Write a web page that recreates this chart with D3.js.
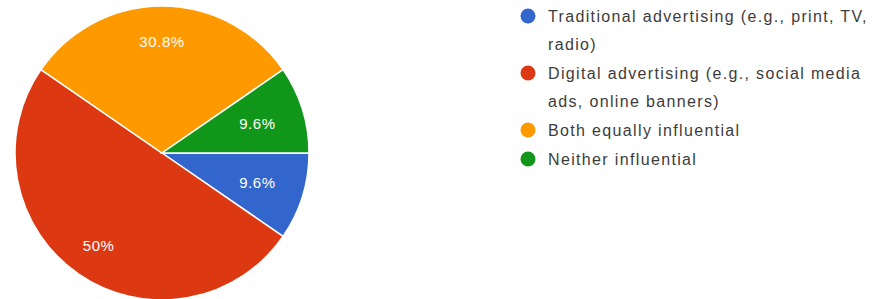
<!DOCTYPE html>
<html>
<head>
<meta charset="utf-8">
<script src="https://cdn.jsdelivr.net/npm/d3@7"></script>
<style>
  html, body { margin: 0; padding: 0; background: #fff; }
  svg { display: block; }
</style>
</head>
<body>
<svg id="chart"></svg>
<script>
// pie chart — advertising influence survey

const categories = [
  "Traditional advertising (e.g., print, TV, radio)",
  "Digital advertising (e.g., social media ads, online banners)",
  "Both equally influential",
  "Neither influential"
];
const values = [9.6, 50, 30.8, 9.6];
const valueLabels = ["9.6%", "50%", "30.8%", "9.6%"];
const legendLines = [
  ["Traditional advertising (e.g., print, TV,", "radio)"],
  ["Digital advertising (e.g., social media", "ads, online banners)"],
  ["Both equally influential"],
  ["Neither influential"]
];
const colors = ["#3366cc", "#dc3912", "#ff9900", "#109618"];

const width = 872, height = 299;
const cx = 162, cy = 153, radius = 147;

const svg = d3.select("#chart").attr("width", width).attr("height", height);

const color = d3.scaleOrdinal().domain(categories).range(colors);

const pie = d3.pie()
  .sort(null)
  .value(d => d.value)
  .startAngle(Math.PI / 2)
  .endAngle(Math.PI / 2 + 2 * Math.PI);

const data = categories.map((c, i) => ({ name: c, value: values[i], label: valueLabels[i] }));
const arcs = pie(data);

const arc = d3.arc().innerRadius(0).outerRadius(radius);

const g = svg.append("g").attr("transform", `translate(${cx},${cy})`);

g.selectAll("path.slice")
  .data(arcs).enter().append("path")
  .attr("class", "slice")
  .attr("d", arc)
  .attr("fill", d => color(d.data.name))
  .attr("stroke", "#fff")
  .attr("stroke-width", 1.5);

// small slices get their label pulled a little closer to the middle
function labelPos(d) {
  const frac = d.data.value < 15 ? 0.68 : 0.76;
  const a = (d.startAngle + d.endAngle) / 2;
  return [Math.sin(a) * radius * frac, -Math.cos(a) * radius * frac];
}

g.selectAll("text.pct")
  .data(arcs).enter().append("text")
  .attr("class", "pct")
  .attr("transform", d => `translate(${labelPos(d)})`)
  .attr("text-anchor", "middle")
  .attr("dominant-baseline", "central")
  .attr("fill", "#fff")
  .attr("font-family", "Liberation Sans, Arial, sans-serif")
  .attr("font-size", 15)
  .attr("letter-spacing", 0.6)
  .text(d => d.data.label);

// legend
const legendX = 528, textX = 548, lineH = 28;
let y = 16;
const legend = svg.append("g");
categories.forEach((c, i) => {
  legend.append("circle")
    .attr("cx", legendX).attr("cy", y).attr("r", 7.5)
    .attr("fill", color(c));
  legendLines[i].forEach((line, j) => {
    legend.append("text")
      .attr("x", textX).attr("y", y + j * lineH)
      .attr("dominant-baseline", "central")
      .attr("fill", "#3c3c3c")
      .attr("font-family", "Liberation Sans, Arial, sans-serif")
      .attr("font-size", 16)
      .attr("letter-spacing", 1.35)
      .text(line);
  });
  y += legendLines[i].length * lineH + 1;
});
</script>
</body>
</html>
